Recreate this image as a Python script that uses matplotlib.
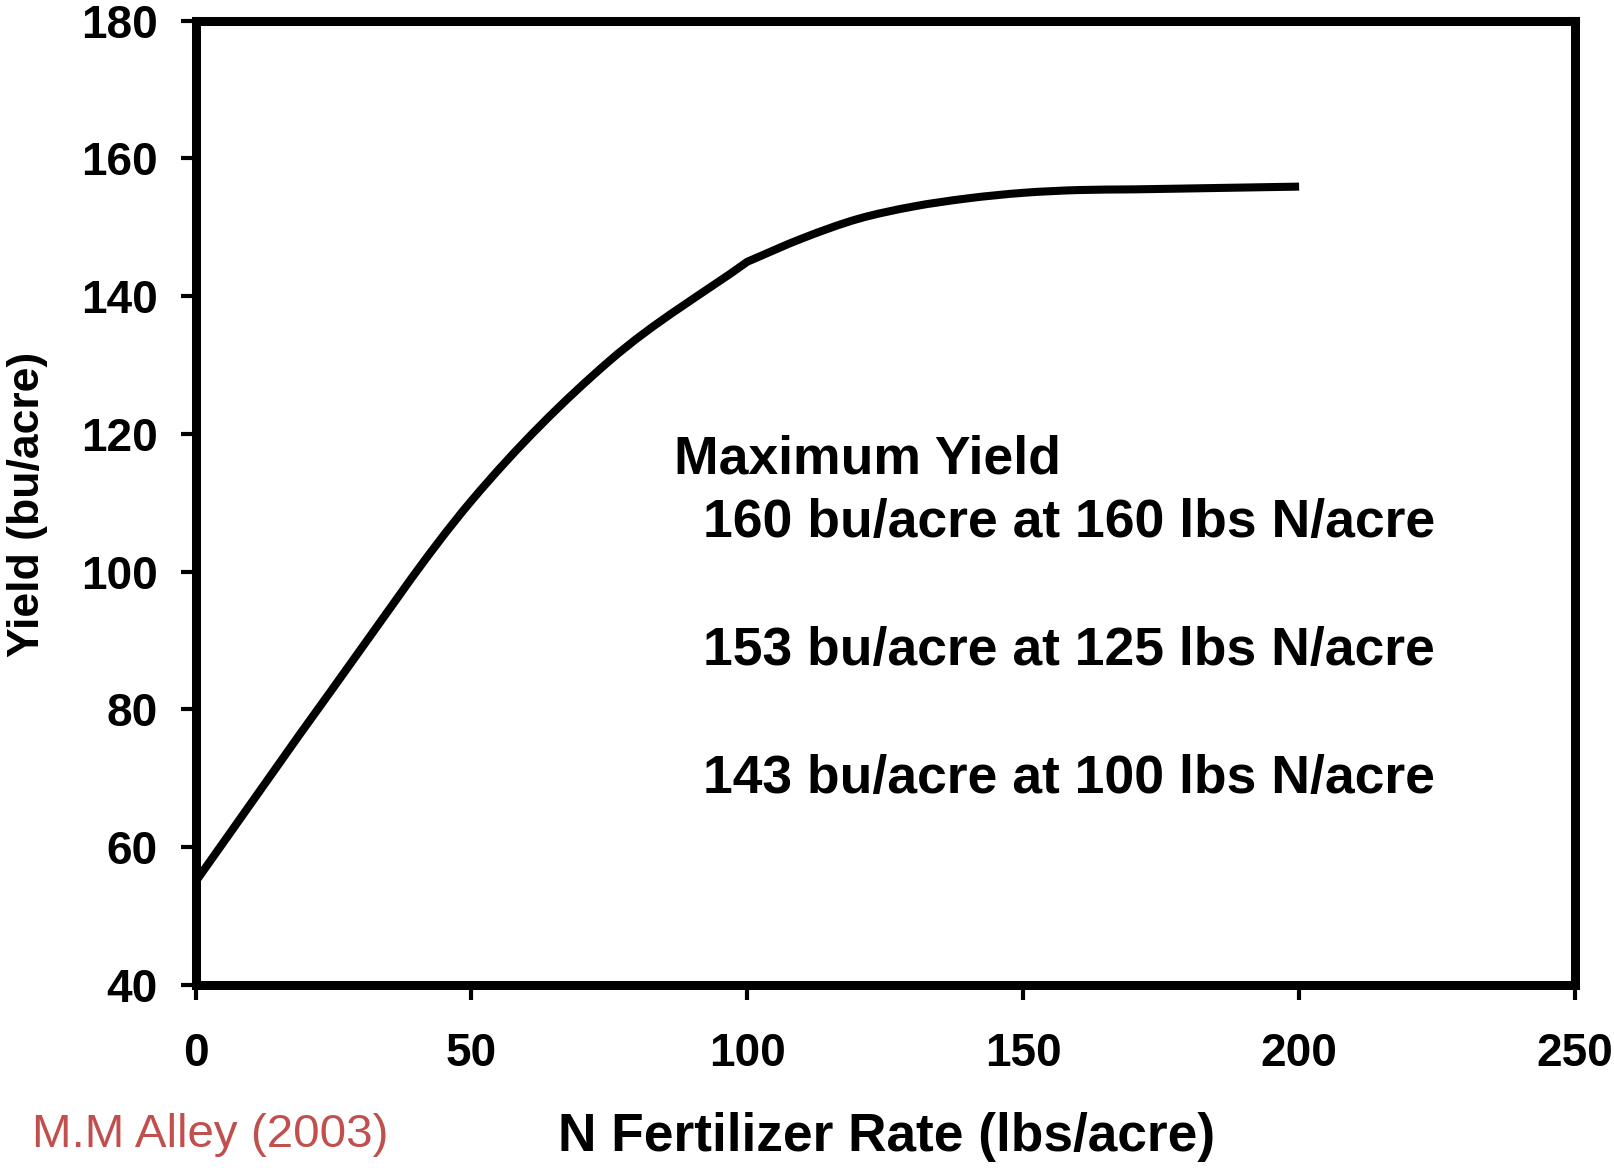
import matplotlib
matplotlib.use("Agg")
import matplotlib.pyplot as plt
from matplotlib.path import Path
from matplotlib.patches import PathPatch

# Data
n_rate = [0, 25, 50, 75, 100, 110, 120, 130, 140, 150, 160, 170, 185, 200]
yield_bu = [55.0, 83.2, 110.3, 130.6, 145.0, 148.4, 151.2, 153.0, 154.2, 155.0, 155.4, 155.5, 155.7, 155.9]
break_at = 100  # the drawn curve changes course at 100 lbs N/acre

x_ticks = [0, 50, 100, 150, 200, 250]
y_ticks = [40, 60, 80, 100, 120, 140, 160, 180]

header = "Maximum Yield"
notes = ["160 bu/acre at 160 lbs N/acre",
         "153 bu/acre at 125 lbs N/acre",
         "143 bu/acre at 100 lbs N/acre"]
source = "M.M Alley (2003)"

W, H = 1614, 1168
plt.rcParams['font.family'] = ['Liberation Sans', 'DejaVu Sans']
fig = plt.figure(figsize=(W / 100, H / 100), dpi=100)
ax = fig.add_axes([195.6 / W, 1 - 985 / H, (1575 - 195.6) / W, (985 - 20.6) / H])


def smooth_path(xs, ys):
    """Excel-style smoothed line (Catmull-Rom Bezier) through the points."""
    verts = [(xs[0], ys[0])]
    codes = [Path.MOVETO]
    n = len(xs)
    for i in range(n - 1):
        x0, y0 = (xs[i - 1], ys[i - 1]) if i > 0 else (xs[i], ys[i])
        x1, y1 = xs[i], ys[i]
        x2, y2 = xs[i + 1], ys[i + 1]
        x3, y3 = (xs[i + 2], ys[i + 2]) if i + 2 < n else (x2, y2)
        # scale tangents for uneven spacing
        h = x2 - x1
        t1 = h / (x2 - x0) if x2 != x0 else 0.5
        t2 = h / (x3 - x1) if x3 != x1 else 0.5
        verts += [(x1 + (x2 - x0) * t1 / 3, y1 + (y2 - y0) * t1 / 3),
                  (x2 - (x3 - x1) * t2 / 3, y2 - (y3 - y1) * t2 / 3),
                  (x2, y2)]
        codes += [Path.CURVE4] * 3
    return verts, codes


k = n_rate.index(break_at)
v1, c1 = smooth_path(n_rate[:k + 1], yield_bu[:k + 1])
v2, c2 = smooth_path(n_rate[k:], yield_bu[k:])
c2[0] = Path.LINETO
ax.add_patch(PathPatch(Path(v1 + v2, c1 + c2), facecolor='none', edgecolor='black',
                       lw=5.8, capstyle='butt', joinstyle='round', clip_on=False))

ax.set_xlim(0, 250)
ax.set_ylim(40, 180)
ax.set_xticks(x_ticks)
ax.set_yticks(y_ticks)
ax.tick_params(axis='both', direction='out', length=10.5, width=3, color='black',
               labelsize=33, pad=17)
ax.tick_params(axis='x', pad=23)
for lab in ax.get_xticklabels() + ax.get_yticklabels():
    lab.set_fontweight('bold')
for sp in ax.spines.values():
    sp.set_linewidth(6.5)
    sp.set_color('black')

ax.set_xlabel("N Fertilizer Rate (lbs/acre)", fontsize=38.3, fontweight='bold', va='center')
ax.xaxis.set_label_coords(0.501, -0.158)
ax.set_ylabel("Yield (bu/acre)", fontsize=32, fontweight='bold', va='center', ha='center')
ax.yaxis.set_label_coords(-0.1222, 0.4988)

fig.text(674 / W, 1 - 473 / H, header, fontsize=38.5, fontweight='bold', va='baseline', ha='left')
for txt, base in zip(notes, [537, 665, 793]):
    fig.text(703 / W, 1 - base / H, txt, fontsize=38.5, fontweight='bold', va='baseline', ha='left')

fig.text(32 / W, 1 - 1147 / H, source, fontsize=34.2, color='#C0504D', va='baseline', ha='left')

fig.savefig("out.png", dpi=100, facecolor='white')
